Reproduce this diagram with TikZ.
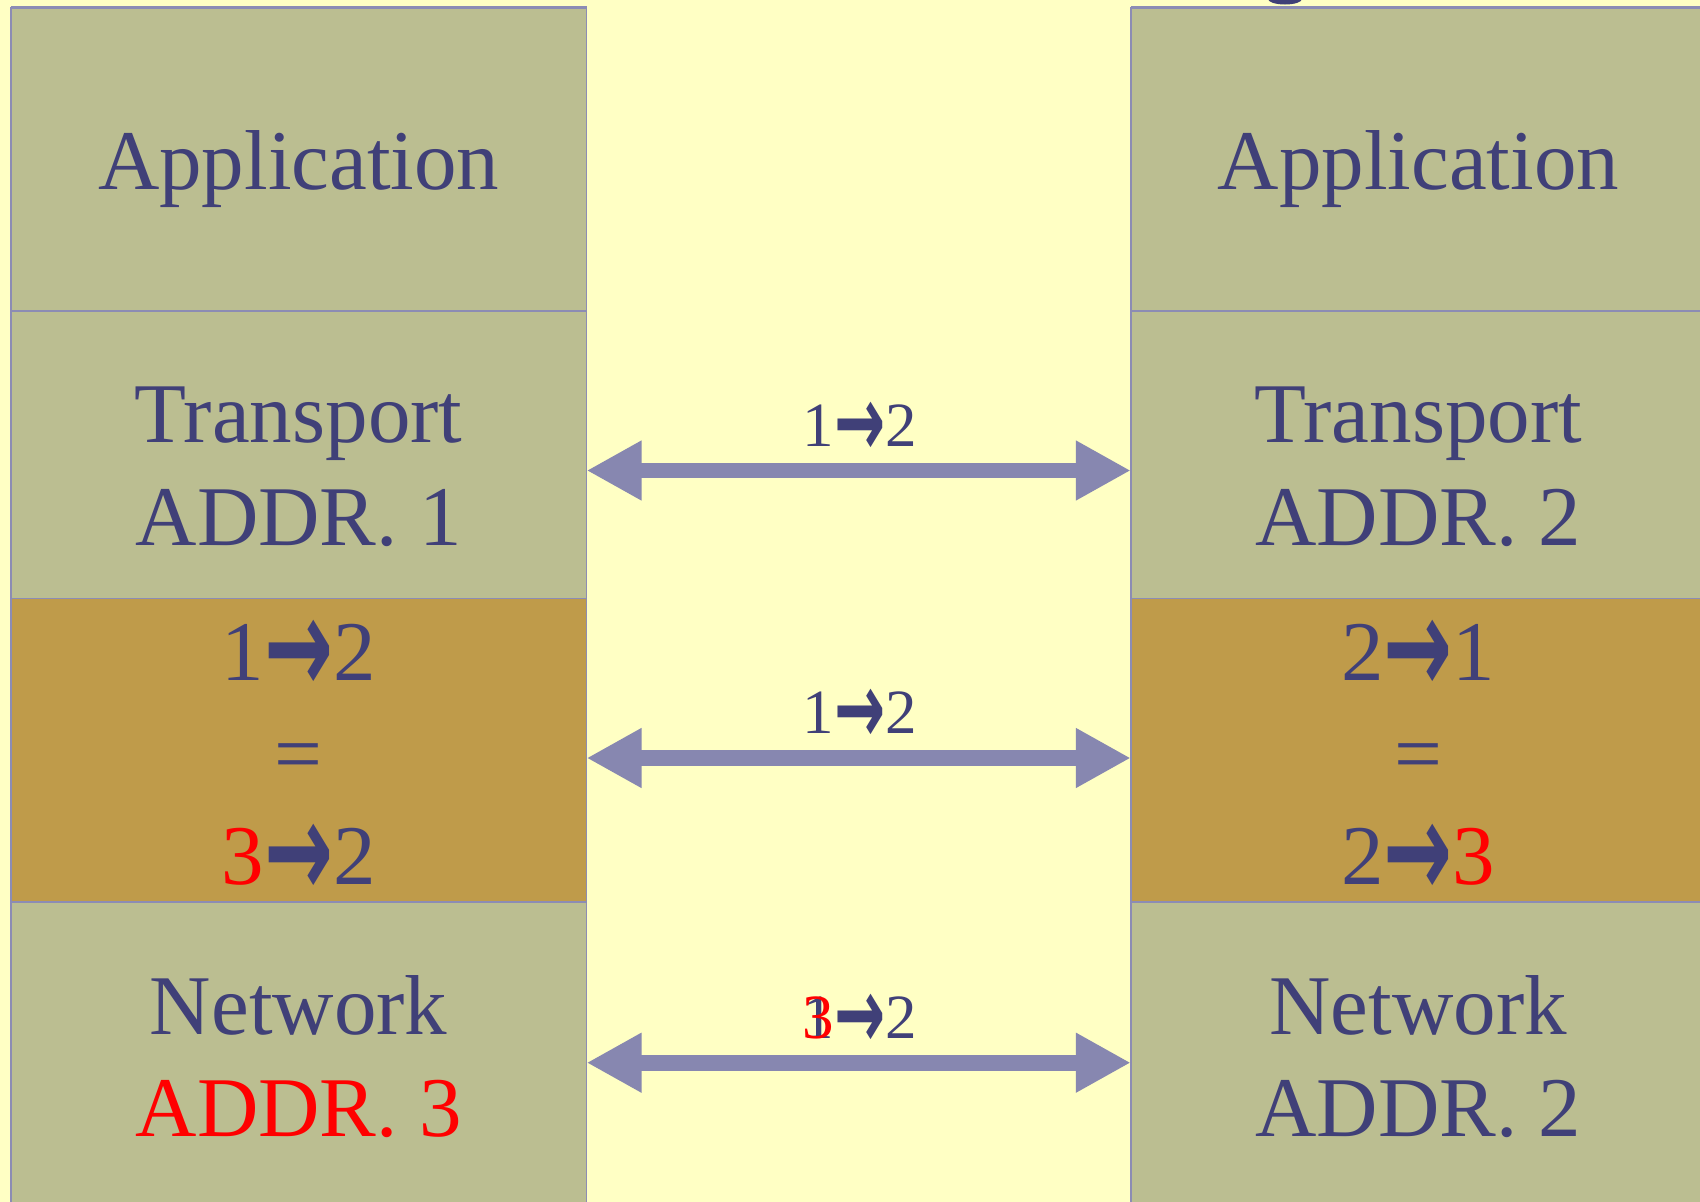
\documentclass[tikz,border=0pt]{standalone}
\usepackage{fontspec}
\setmainfont{Liberation Serif}
\newfontfamily\arrowfont{DejaVu Sans Bold}
\usetikzlibrary{arrows.meta}

\definecolor{paper}{HTML}{FFFFC4}
\definecolor{layerfill}{HTML}{BBBE91}
\definecolor{shimfill}{HTML}{BF9B4A}
\definecolor{edge}{HTML}{8C8CB4}
\definecolor{ink}{HTML}{404078}
\definecolor{pipe}{HTML}{8787B0}
\definecolor{alert}{HTML}{FF0000}

% heavy right arrow used inside the address pairs
\newcommand{\rto}{\raisebox{-0.16em}{\scalebox{0.97}[1.6]{\arrowfont →}}}

\tikzset{
  layer/.style={draw=edge, line width=1.6pt, anchor=north west, inner sep=0pt, outer sep=0pt,
                minimum width=575.8pt},
  big/.style={text=ink, anchor=base, inner sep=0pt, font=\fontsize{85}{102}\selectfont},
  small/.style={text=ink, anchor=base, inner sep=0pt, font=\fontsize{63}{76}\selectfont},
  conn/.style={draw=pipe, line width=15.7pt,
               {Triangle[length=55pt,width=56pt]}-{Triangle[length=55pt,width=56pt]}},
}

\begin{document}
\begin{tikzpicture}[x=1pt,y=-1pt]
\useasboundingbox (0,0) rectangle (1700,1202);
\fill[paper] (0,0) rectangle (1700,1202);

% left protocol stack
\node[layer, fill=layerfill, minimum height=303.4pt] (appL) at (10.8,7.6) {};
\node[layer, fill=layerfill, minimum height=287.5pt] (trL)  at (10.8,311) {};
\node[layer, fill=shimfill,  minimum height=303.5pt] (midL) at (10.8,598.5) {};
\node[layer, fill=layerfill, minimum height=310pt]   (netL) at (10.8,902) {};

% right protocol stack
\node[layer, fill=layerfill, minimum height=303.4pt] (appR) at (1130.8,7.6) {};
\node[layer, fill=layerfill, minimum height=287.5pt] (trR)  at (1130.8,311) {};
\node[layer, fill=shimfill,  minimum height=303.5pt] (midR) at (1130.8,598.5) {};
\node[layer, fill=layerfill, minimum height=310pt]   (netR) at (1130.8,902) {};

% heavier top edge of both stacks
\draw[edge, line width=2.4pt] (appL.north west) -- (appL.north east);
\draw[edge, line width=2.4pt] (appR.north west) -- (appR.north east);

% bottom of a heading letter peeking in above the right stack
\fill[ink] (1268,-1) arc[start angle=180, end angle=0, x radius=17, y radius=5.5] -- cycle;

% left texts
\node[big] (tAppL)  at (298.7,189)   {Application};
\node[big] (tTrL)   at (298.7,442.7) {Transport};
\node[big] (tTrLa)  at (298.7,545)   {ADDR. 1};
\node[big] (tMidL1) at (298.7,680)   {1\rto 2};
\node[big] (tMidL2) at (298.7,782)   {=};
\node[big] (tMidL3) at (298.7,884.3) {\textcolor{alert}{3}\rto 2};
\node[big] (tNetL)  at (298.7,1034)  {Network};
\node[big, text=alert] (tNetLa) at (298.7,1136) {ADDR. 3};

% right texts
\node[big] (tAppR)  at (1418.3,189)   {Application};
\node[big] (tTrR)   at (1418.3,442.7) {Transport};
\node[big] (tTrRa)  at (1418.3,545)   {ADDR. 2};
\node[big] (tMidR1) at (1418.3,680)   {2\rto 1};
\node[big] (tMidR2) at (1418.3,782)   {=};
\node[big] (tMidR3) at (1418.3,884.3) {2\rto\textcolor{alert}{3}};
\node[big] (tNetR)  at (1418.3,1034)  {Network};
\node[big] (tNetRa) at (1418.3,1136)  {ADDR. 2};

% peer-to-peer exchanges
\coordinate (yTr)  at (0,470.5);
\coordinate (yMid) at (0,758);
\coordinate (yNet) at (0,1062.7);
\draw[conn] (trL.east |- yTr)   -- (trR.west |- yTr);
\draw[conn] (midL.east |- yMid) -- (midR.west |- yMid);
\draw[conn] (netL.east |- yNet) -- (netR.west |- yNet);

\node[small] (lTr)  at (860,446)    {1\rto 2};
\node[small] (lMid) at (860,733.5)  {1\rto 2};
\node[small] (lNet) at (860,1038)   {1\llap{\textcolor{alert}{3}}\rto 2};
\end{tikzpicture}
\end{document}
